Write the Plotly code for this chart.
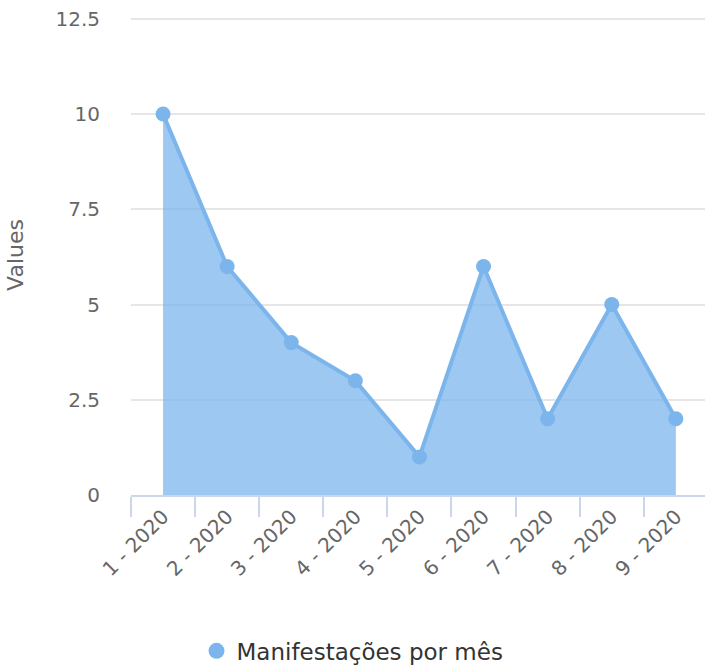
import plotly.graph_objects as go

categories = ["1 - 2020", "2 - 2020", "3 - 2020", "4 - 2020", "5 - 2020",
              "6 - 2020", "7 - 2020", "8 - 2020", "9 - 2020"]
values = [10, 6, 4, 3, 1, 6, 2, 5, 2]
series_name = "Manifestações por mês"
y_tickvals = [0, 2.5, 5, 7.5, 10, 12.5]
y_ticktext = ["0", "2.5", "5", "7.5", "10", "12.5"]

FONT = "DejaVu Sans"
BLUE = "#7cb5ec"

fig = go.Figure()
fig.add_trace(go.Scatter(
    x=categories, y=values, mode="lines+markers",
    fill="tozeroy", fillcolor="rgba(124,181,236,0.75)",
    line=dict(color=BLUE, width=4),
    marker=dict(color=BLUE, size=15),
    showlegend=False, hoverinfo="x+y",
))
# legend entry (circle symbol like the original)
fig.add_trace(go.Scatter(
    x=[None], y=[None], mode="markers", name=series_name,
    marker=dict(color=BLUE, size=24), showlegend=True,
))

fig.update_layout(
    width=705, height=671,
    margin=dict(l=131, r=0, t=15, b=176),
    plot_bgcolor="white", paper_bgcolor="white",
    font=dict(family=FONT, color="#666666"),
    xaxis=dict(
        type="category", range=[-0.5, 8.455], automargin=False,
        tickson="boundaries", ticks="outside", ticklen=20, tickwidth=2,
        tickcolor="#ccd6eb", showgrid=False,
        showline=True, linecolor="#ccd6eb", linewidth=2,
        tickangle=-45, tickfont=dict(size=20, color="#666666", family=FONT),
        zeroline=False,
    ),
    yaxis=dict(
        range=[0, 12.6], tickvals=y_tickvals, ticktext=y_ticktext,
        automargin=False,
        showgrid=True, gridcolor="#e6e6e6", gridwidth=2,
        zeroline=False, showline=False,
        ticks="", ticklabelstandoff=30,
        tickfont=dict(size=20, color="#666666", family=FONT),
        title=dict(text="Values", font=dict(size=22, color="#666666", family=FONT),
                   standoff=25),
    ),
    legend=dict(
        orientation="h", xref="container", yref="container",
        x=0.5, xanchor="center", y=0.03, yanchor="middle",
        font=dict(size=23, color="#333333", family=FONT),
        itemsizing="trace",
    ),
)

fig.write_html(
    "out.html",
    config={"displayModeBar": False},
    post_script="document.body.style.margin='0px';document.body.style.overflow='hidden';",
)
